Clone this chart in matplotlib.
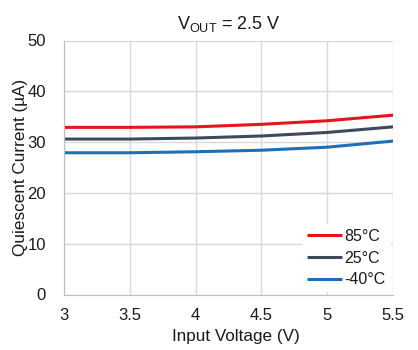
import matplotlib
matplotlib.use("Agg")
import matplotlib.pyplot as plt

plt.rcParams['font.family'] = ['Liberation Sans', 'DejaVu Sans']
plt.rcParams['mathtext.fontset'] = 'custom'
plt.rcParams['mathtext.rm'] = 'Liberation Sans'
plt.rcParams['mathtext.it'] = 'Liberation Sans'

vin = [3.0, 3.5, 4.0, 4.5, 5.0, 5.5]
iq_85 = [32.9, 32.9, 33.0, 33.5, 34.2, 35.3]
iq_25 = [30.6, 30.6, 30.8, 31.2, 31.9, 33.0]
iq_m40 = [27.9, 27.9, 28.1, 28.4, 29.0, 30.2]
labels = ['85°C', '25°C', '-40°C']
colors = ['#e8141b', '#3d4a5c', '#1f6fb8']
xticks = [3, 3.5, 4, 4.5, 5, 5.5]
yticks = [0, 10, 20, 30, 40, 50]

fig = plt.figure(figsize=(4.18, 3.5), dpi=100)
ax = fig.add_axes([64/418, 1-294.5/350, (393-64)/418, (294.5-40.5)/350])

for y, lab, c in zip([iq_85, iq_25, iq_m40], labels, colors):
    ax.plot(vin, y, color=c, lw=2.2, label=lab, solid_capstyle='butt')

ax.set_xlim(3, 5.5)
ax.set_ylim(0, 50)
ax.set_xticks(xticks)
ax.set_xticklabels([f'{t:g}' for t in xticks])
ax.set_yticks(yticks)
ax.grid(True, color='#d9d9d9', lw=1)
ax.set_axisbelow(True)
for s in ['top', 'right']:
    ax.spines[s].set_visible(False)
for s in ['left', 'bottom']:
    ax.spines[s].set_color('#bfbfbf')
ax.tick_params(axis='both', length=0, labelsize=12, colors='#1a1a1a')
ax.tick_params(axis='y', pad=13)
ax.tick_params(axis='x', pad=10)

ax.set_xlabel('Input Voltage (V)', fontsize=12.3, color='#1a1a1a')
ax.set_ylabel('Quiescent Current (µA)', fontsize=12.3, color='#1a1a1a')
ax.xaxis.set_label_coords((235.5 - 64) / 329, (294.5 - 328.5) / 254)
ax.yaxis.set_label_coords((28 - 64) / 329, 0.5)
ax.set_title(r'V$_{\mathrm{OUT}}$ = 2.5 V', fontsize=13, color='#1a1a1a', pad=8)

leg = ax.legend(loc='lower right', frameon=True, fancybox=False, edgecolor='none',
                framealpha=1, fontsize=11.5, handlelength=2.2, handletextpad=0.15,
                labelspacing=0.42, borderaxespad=0.15, borderpad=0.3)
for t in leg.get_texts():
    t.set_color('#1a1a1a')

fig.savefig('out.png', dpi=100)
